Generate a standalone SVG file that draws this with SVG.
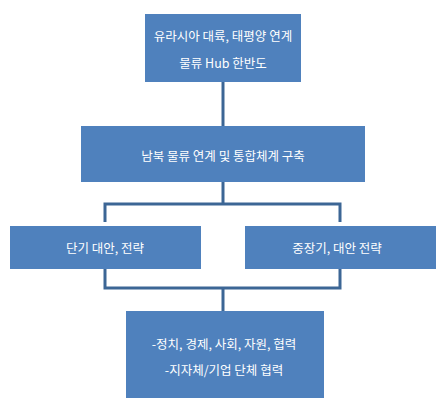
<svg xmlns="http://www.w3.org/2000/svg" width="441" height="415" viewBox="0 0 441 415">
<style>
.box{fill:#4f81bd;}
.t{fill:#ffffff;font-family:"Noto Sans CJK KR","Noto Sans",sans-serif;font-size:12.5px;text-anchor:middle;dominant-baseline:central;}
.c{fill:none;stroke:#3c6695;stroke-width:3;}
</style>
<rect width="441" height="415" fill="#ffffff"/>
<g id="connectors">
<path class="c" d="M223,82 V126"/>
<path class="c" d="M223,182 V204 M105,222 V204 H340 V222"/>
<path class="c" d="M105,269 V288 H340 V269 M223,288 V311"/>
</g>
<g id="n1">
<rect class="box" x="145" y="14" width="156" height="68"/>
<text class="t" x="223" y="35">유라시아 대륙, 태평양 연계</text>
<text class="t" x="223" y="62">물류 Hub 한반도</text>
</g>
<g id="n2">
<rect class="box" x="81" y="126" width="284" height="56"/>
<text class="t" x="223" y="155">남북 물류 연계 및 통합체계 구축</text>
</g>
<g id="n3">
<rect class="box" x="10" y="226" width="191" height="43"/>
<text class="t" x="105" y="247">단기 대안, 전략</text>
</g>
<g id="n4">
<rect class="box" x="245" y="226" width="191" height="43"/>
<text class="t" x="337" y="247">중장기, 대안 전략</text>
</g>
<g id="n5">
<rect class="box" x="126" y="311" width="198" height="87"/>
<text class="t" x="224" y="343">-정치, 경제, 사회, 자원, 협력</text>
<text class="t" x="224" y="369">-지자체/기업 단체 협력</text>
</g>
</svg>
